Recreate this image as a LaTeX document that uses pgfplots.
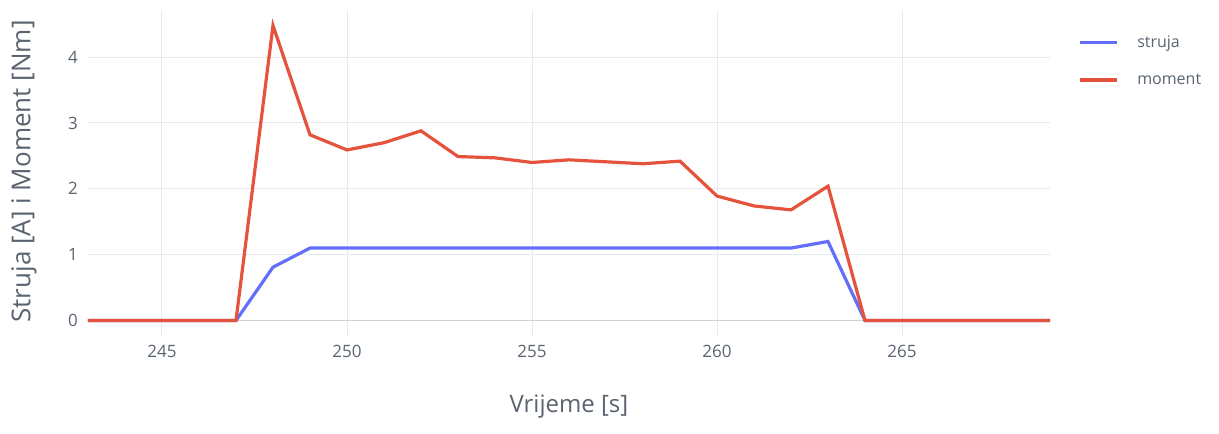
\documentclass[border=0pt]{standalone}
\usepackage{pgfplots}
\pgfplotsset{compat=1.18}
\usepackage{fontspec}
\setmainfont{Open Sans}
\definecolor{struja}{HTML}{636EFA}
\definecolor{moment}{HTML}{E5533D}
\definecolor{gridc}{HTML}{E6EAF1}
\definecolor{txt}{HTML}{5A6470}

\begin{document}
\begin{tikzpicture}
\begin{axis}[
    at={(0,0)}, anchor=south west,
    scale only axis, width=962pt, height=326pt,
    xmin=243, xmax=269, ymin=-0.235, ymax=4.715,
    xtick={245,250,...,265}, ytick={0,1,2,3,4},
    axis line style={draw=none},
    major tick length=0pt,
    grid=major, major grid style={gridc, line width=1pt},
    /pgf/number format/assume math mode=true,
    tick label style={font=\fontsize{17}{20}\selectfont, text=txt},
    xticklabel style={anchor=center, yshift=-15pt},
    yticklabel style={anchor=east, inner sep=0pt, xshift=-10pt},
    xlabel={Vrijeme [s]}, ylabel={Struja [A] i Moment [Nm]},
    xlabel style={font=\fontsize{24}{28}\selectfont, text=txt,
        at={(axis description cs:0.5,-0.218)}, anchor=center},
    ylabel style={font=\fontsize{26}{30}\selectfont, text=txt,
        at={(axis description cs:-0.0665,0.505)}, anchor=center},
    legend cell align=left,
    legend style={at={(1.029,0.928)}, anchor=north west, draw=none, fill=none,
        font=\fontsize{16}{19}\selectfont, text=txt, inner sep=0pt,
        row sep=21pt, column sep=17pt},
    legend image code/.code={\draw[#1] (0pt,0pt) -- (37pt,0pt);},
]
\addplot[gray!35, line width=1.5pt, forget plot] coordinates {(243,0) (269,0)};
\addplot[struja, line width=3.2pt] coordinates {
    (243,0) (244,0) (245,0) (246,0) (247,0) (248,0.81) (249,1.1) (250,1.1)
    (251,1.1) (252,1.1) (253,1.1) (254,1.1) (255,1.1) (256,1.1) (257,1.1)
    (258,1.1) (259,1.1) (260,1.1) (261,1.1) (262,1.1) (263,1.2) (264,0)
    (265,0) (266,0) (267,0) (268,0) (269,0)
};
\addlegendentry{struja}
\addplot[moment, line width=3.2pt] coordinates {
    (243,0) (244,0) (245,0) (246,0) (247,0) (248,4.48) (249,2.82) (250,2.59)
    (251,2.70) (252,2.88) (253,2.49) (254,2.47) (255,2.40) (256,2.44) (257,2.41)
    (258,2.38) (259,2.42) (260,1.89) (261,1.74) (262,1.68) (263,2.04) (264,0)
    (265,0) (266,0) (267,0) (268,0) (269,0)
};
\addlegendentry{moment}
\end{axis}
\useasboundingbox (-88pt,-98pt) rectangle (1131pt,336pt);
\end{tikzpicture}
\end{document}
